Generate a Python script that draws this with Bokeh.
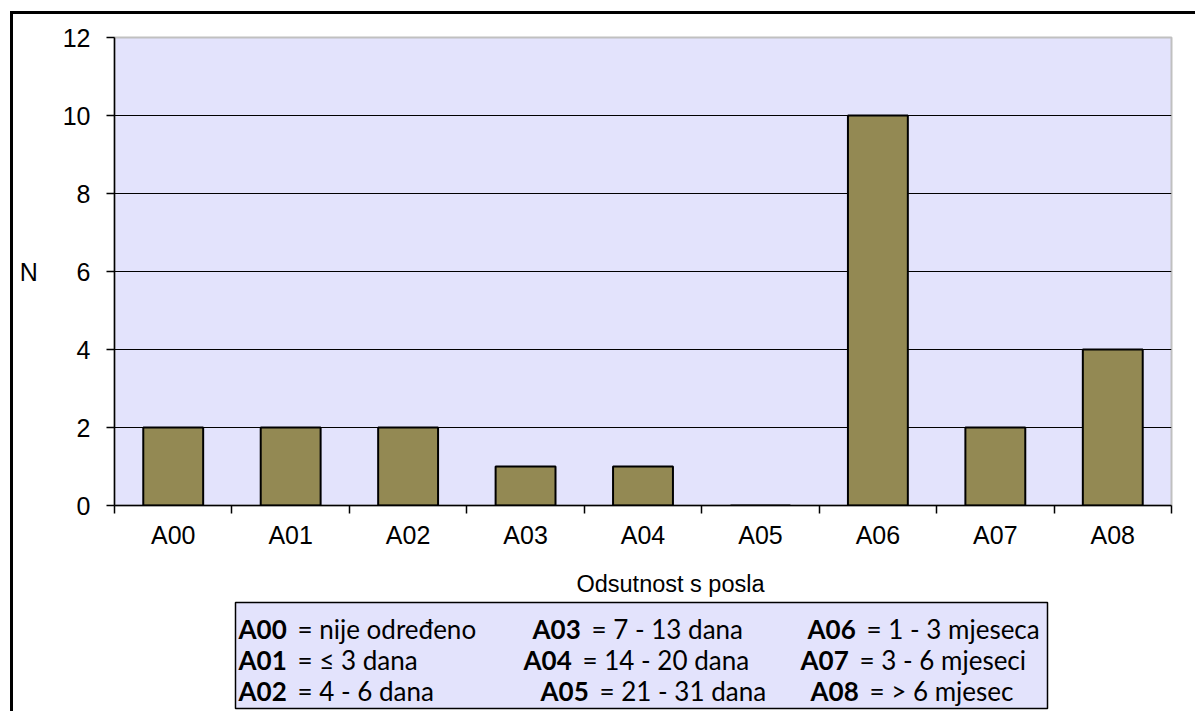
from bokeh.plotting import figure
from bokeh.layouts import column
from bokeh.models import FixedTicker, Range1d
from bokeh.core.properties import value
from bokeh.embed import file_html
from bokeh.resources import INLINE
import numpy as np

# ---- data ----
categories = ["A00", "A01", "A02", "A03", "A04", "A05", "A06", "A07", "A08"]
counts = [2, 2, 2, 1, 1, 0, 10, 2, 4]
y_ticks = [0, 2, 4, 6, 8, 10, 12]
grid_ticks = [2, 4, 6, 8, 10]
x_title = "Odsutnost s posla"
y_title = "N"
legend_codes = ["A00", "A03", "A06",
                "A01", "A04", "A07",
                "A02", "A05", "A08"]
legend_texts = ["= nije određeno", "= 7 - 13 dana", "= 1 - 3 mjeseca",
                "= ≤ 3 dana", "= 14 - 20 dana", "= 3 - 6 mjeseci",
                "= 4 - 6 dana", "= 21 - 31 dana", "= > 6 mjesec"]

# ---- layout (page pixels) ----
PAGE_W, PAGE_H = 1195, 711
OX, OY = 13, 14            # content origin inside the outer border
SPLIT = 555                # page y where the lower (legend) canvas starts
FL, FR, FT, FB = 114, 1171, 37, 505   # plot frame edges on the page

BG = "#E3E3FC"
BAR = "#938953"
AX_FONT = "Liberation Sans"
LEG_FONT = "Lato"

centers = list(np.arange(len(categories)) + 0.5)
bounds = list(range(len(categories) + 1))

W = PAGE_W - OX
H1 = SPLIT - OY
p = figure(width=W, height=H1, output_backend="svg", toolbar_location=None,
           x_range=Range1d(0, len(categories)), y_range=Range1d(0, 12),
           min_border_left=FL - OX, min_border_right=PAGE_W - FR,
           min_border_top=FT - OY, min_border_bottom=SPLIT - FB)
p.background_fill_color = BG
p.border_fill_color = "white"
p.outline_line_color = "#C0C0C0"
p.outline_line_width = 2

p.vbar(x=centers, top=counts, width=0.51, bottom=0,
       fill_color=BAR, line_color="black", line_width=2)

xa = p.xaxis[0]
xa.ticker = FixedTicker(ticks=centers, minor_ticks=bounds)
xa.major_label_overrides = {c: cat for c, cat in zip(centers, categories)}
xa.major_tick_out = 0
xa.major_tick_in = 0
xa.minor_tick_out = 8
xa.minor_tick_in = 0
xa.minor_tick_line_color = "black"
xa.minor_tick_line_width = 1.5
xa.axis_line_color = "black"
xa.axis_line_width = 1.5
xa.major_label_standoff = 7
xa.major_label_text_font = AX_FONT
xa.major_label_text_font_size = "25px"
xa.major_label_text_color = "black"

ya = p.yaxis[0]
ya.ticker = FixedTicker(ticks=y_ticks, minor_ticks=[])
ya.major_tick_out = 8
ya.major_tick_in = 0
ya.major_tick_line_color = "black"
ya.major_tick_line_width = 1.5
ya.axis_line_color = "black"
ya.axis_line_width = 1.5
ya.major_label_standoff = 16
ya.major_label_text_font = AX_FONT
ya.major_label_text_font_size = "25px"
ya.major_label_text_color = "black"
ya.axis_label = y_title
ya.axis_label_orientation = "horizontal"
ya.axis_label_standoff = 22
ya.axis_label_text_font = AX_FONT
ya.axis_label_text_font_size = "25px"
ya.axis_label_text_font_style = "normal"
ya.axis_label_text_color = "black"

p.xgrid.grid_line_color = None
p.ygrid.ticker = FixedTicker(ticks=grid_ticks)
p.ygrid.grid_line_color = "black"
p.ygrid.grid_line_width = 1

# ---- lower canvas: axis title + legend box (page-pixel coordinates) ----
H2 = PAGE_H - SPLIT
q = figure(width=W, height=H2, output_backend="svg", toolbar_location=None,
           x_range=Range1d(FL, FR), y_range=Range1d(PAGE_H, SPLIT),
           x_axis_type=None, y_axis_type=None,
           min_border_left=FL - OX, min_border_right=PAGE_W - FR,
           min_border_top=0, min_border_bottom=0)
q.background_fill_color = "white"
q.border_fill_color = "white"
q.outline_line_color = None
q.xgrid.visible = False
q.ygrid.visible = False

q.text(x=[670], y=[583], text=[x_title], text_font=value(AX_FONT),
       text_font_size="23.5px", text_align="center", text_baseline="alphabetic",
       text_color="black")

q.quad(left=[235], right=[1047], top=[602], bottom=[708],
       fill_color=BG, line_color="black", line_width=1.5)

code_x = [238, 532, 807, 238, 523, 800, 238, 540, 810]
row_y = [628, 628, 628, 659, 659, 659, 690, 690, 690]
q.text(x=code_x, y=row_y, text=legend_codes, text_font=value(LEG_FONT),
       text_font_size="26px", text_font_style="bold", text_align="left",
       text_baseline="alphabetic", text_color="black")
q.text(x=[c + 59 for c in code_x], y=row_y, text=legend_texts, text_font=value(LEG_FONT),
       text_font_size="26px", text_align="left",
       text_baseline="alphabetic", text_color="black")

root = column(p, q, spacing=0,
              styles={"border-top": "3px solid black", "border-left": "3px solid black",
                      "margin-left": "10px", "margin-top": "11px"})

open("out.html", "w").write(file_html(root, INLINE))
